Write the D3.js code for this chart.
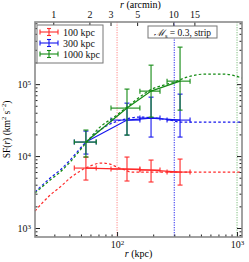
<!DOCTYPE html>
<html>
<head>
<meta charset="utf-8">
<script src="https://cdn.jsdelivr.net/npm/d3@7"></script>
<style>
  body { margin: 0; background: #fff; }
  text { font-family: "Liberation Serif", "DejaVu Serif", serif; }
</style>
</head>
<body>
<script>

// bins (kpc) shared by all three series
var rMid = [55, 121, 192, 335];
var rLo = [44, 89, 155, 261];
var rHi = [67, 155, 228, 406];

// measured SF (km^2 s^-2)
var sf100 = [6810, 6590, 6390, 5990];
var sf100Lo = [4640, 4500, 4360, 3950];
var sf100Hi = [9690, 9690, 8800, 9080];

var sf300 = [15650, 31620, 33730, 31620];
var sf300Lo = [10660, 19570, 18370, 18370];
var sf300Hi = [22230, 54400, 65900, 72600];

var sf1000 = [15650, 46420, 79900, 110000];
var sf1000Lo = [9690, 19570, 34800, 43500];
var sf1000Hi = [22990, 85300, 183500, 326600];

// model curves (dashed)
var mod100R = [20.7, 27.7, 33.5, 40.6, 49.2, 59.6, 73.6, 87.4, 100, 117, 131, 188, 335, 1100];
var mod100SF = [1720, 2870, 3710, 4950, 6190, 7260, 8000, 7740, 7030, 6390, 5990, 5990, 5990, 5990];
var mod300R = [20.7, 27.7, 33.5, 40.6, 55.1, 72.1, 87.4, 117, 156, 207, 276, 335, 1100];
var mod300SF = [3160, 4950, 6390, 8800, 15650, 22970, 27830, 32660, 34800, 33700, 31620, 29690, 29690];
var mod1000R = [20.7, 27.7, 33.5, 40.6, 55.1, 72.1, 94.4, 121, 188, 298, 383, 532, 780, 1100];
var mod1000SF = [3060, 4640, 5990, 8250, 15170, 25290, 34800, 47960, 82540, 106600, 125000, 137600, 137600, 121200];

var labels = ["100 kpc", "300 kpc", "1000 kpc"];
var colors = ["#ff2a2a", "#1515ee", "#138a13"];
var scales = [100, 300, 1000];
var kpcPerArcmin = 29.4;
var arcminTicks = [1, 2, 3, 5, 10, 15];

var w = 249, h = 262;
var L = 35, R = 242, T = 22, B = 237;

var svg = d3.select("body").append("svg")
    .attr("width", w)
    .attr("height", h);

var xScale = d3.scaleLog().domain([20.7, 1100]).range([L, R]);
var yScale = d3.scaleLog().domain([750, 7.3e5]).range([B, T]);
var xTop = d3.scaleLog().domain([20.7 / kpcPerArcmin, 1100 / kpcPerArcmin]).range([L, R]);

var series = [
    {mid: sf100, lo: sf100Lo, hi: sf100Hi, mr: mod100R, ms: mod100SF},
    {mid: sf300, lo: sf300Lo, hi: sf300Hi, mr: mod300R, ms: mod300SF},
    {mid: sf1000, lo: sf1000Lo, hi: sf1000Hi, mr: mod1000R, ms: mod1000SF}
];

var plot = svg.append("g");

// vertical dotted lines at the driving scales
plot.selectAll(".vline")
    .data(scales)
    .enter()
    .append("line")
    .attr("x1", function(d) { return xScale(d); })
    .attr("x2", function(d) { return xScale(d); })
    .attr("y1", T)
    .attr("y2", B)
    .attr("stroke", function(d, i) { return colors[i]; })
    .attr("stroke-opacity", function(d, i) { return i == 1 ? 0.75 : 0.45; })
    .attr("stroke-width", 1.2)
    .attr("stroke-dasharray", "1.2,1.3");

var line = d3.line()
    .x(function(d) { return xScale(d[0]); })
    .y(function(d) { return yScale(d[1]); })
    .curve(d3.curveMonotoneX);

var straight = d3.line()
    .x(function(d) { return xScale(d[0]); })
    .y(function(d) { return yScale(d[1]); });

series.forEach(function(s, k) {
    var c = colors[k];
    // model
    plot.append("path")
        .attr("d", line(d3.zip(s.mr, s.ms)))
        .attr("fill", "none")
        .attr("stroke", c)
        .attr("stroke-width", 1.2)
        .attr("stroke-dasharray", "2.6,2.2");
    // data line
    plot.append("path")
        .attr("d", straight(d3.zip(rMid, s.mid)))
        .attr("fill", "none")
        .attr("stroke", c)
        .attr("stroke-width", 1.2);

    var g = plot.append("g").attr("stroke", c).attr("stroke-width", 1.1);
    rMid.forEach(function(r, i) {
        var x = xScale(r), y = yScale(s.mid[i]);
        var y1 = yScale(s.hi[i]), y2 = yScale(s.lo[i]);
        var x1 = xScale(rLo[i]), x2 = xScale(rHi[i]);
        g.append("line").attr("x1", x).attr("x2", x).attr("y1", y1).attr("y2", y2);
        g.append("line").attr("x1", x - 2.5).attr("x2", x + 2.5).attr("y1", y1).attr("y2", y1);
        g.append("line").attr("x1", x - 2.5).attr("x2", x + 2.5).attr("y1", y2).attr("y2", y2);
        g.append("line").attr("x1", x1).attr("x2", x2).attr("y1", y).attr("y2", y);
        g.append("line").attr("x1", x1).attr("x2", x1).attr("y1", y - 2.5).attr("y2", y + 2.5);
        g.append("line").attr("x1", x2).attr("x2", x2).attr("y1", y - 2.5).attr("y2", y + 2.5);
    });
});

// axes
function supLabels(sel) {
    sel.selectAll(".tick text").each(function(d) {
        var t = d3.select(this);
        t.text("10");
        t.append("tspan").attr("dy", "-0.45em").attr("font-size", "7px")
            .text(Math.round(Math.log10(d)));
    });
}

var xMajor = [100, 1000];
var xMinor = [30, 40, 50, 60, 70, 80, 90, 200, 300, 400, 500, 600, 700, 800, 900];
var yMajor = [1e3, 1e4, 1e5];
var yMinor = [800, 900, 2e3, 3e3, 4e3, 5e3, 6e3, 7e3, 8e3, 9e3,
    2e4, 3e4, 4e4, 5e4, 6e4, 7e4, 8e4, 9e4, 2e5, 3e5, 4e5, 5e5, 6e5, 7e5];

function styleAxis(g) {
    g.select(".domain").remove();
    g.selectAll(".tick line").attr("stroke", "#222").attr("stroke-width", 1);
    g.selectAll("text").attr("fill", "#111").attr("font-size", "10px")
        .attr("font-family", "Liberation Serif, serif");
}

var gx = svg.append("g").attr("transform", "translate(0," + B + ")")
    .call(d3.axisBottom(xScale).tickValues(xMajor).tickSize(-5).tickPadding(4));
supLabels(gx); styleAxis(gx);
svg.append("g").attr("transform", "translate(0," + B + ")")
    .call(d3.axisBottom(xScale).tickValues(xMinor).tickSize(-2.5).tickFormat(""))
    .call(styleAxis);

var gy = svg.append("g").attr("transform", "translate(" + L + ",0)")
    .call(d3.axisLeft(yScale).tickValues(yMajor).tickSize(-5).tickPadding(4));
supLabels(gy); styleAxis(gy);
svg.append("g").attr("transform", "translate(" + L + ",0)")
    .call(d3.axisLeft(yScale).tickValues(yMinor).tickSize(-2.5).tickFormat(""))
    .call(styleAxis);
svg.append("g").attr("transform", "translate(" + R + ",0)")
    .call(d3.axisRight(yScale).tickValues(yMajor).tickSize(-5).tickFormat(""))
    .call(styleAxis);
svg.append("g").attr("transform", "translate(" + R + ",0)")
    .call(d3.axisRight(yScale).tickValues(yMinor).tickSize(-2.5).tickFormat(""))
    .call(styleAxis);

var gt = svg.append("g").attr("transform", "translate(0," + T + ")")
    .call(d3.axisTop(xTop).tickValues(arcminTicks).tickSize(-4).tickPadding(4)
        .tickFormat(function(d) { return d; }));
styleAxis(gt);

// frame
svg.append("rect")
    .attr("x", L).attr("y", T)
    .attr("width", R - L).attr("height", B - T)
    .attr("fill", "none")
    .attr("stroke", "#8a8a8a")
    .attr("stroke-width", 1.6);

// axis titles
svg.append("text")
    .attr("x", (L + R) / 2).attr("y", 257)
    .attr("text-anchor", "middle").attr("font-size", "10px")
    .html('<tspan font-style="italic">r</tspan> (kpc)');
svg.append("text")
    .attr("x", (L + R) / 2 + 2).attr("y", 8)
    .attr("text-anchor", "middle").attr("font-size", "10px")
    .html('<tspan font-style="italic">r</tspan> (arcmin)');
svg.append("text")
    .attr("transform", "translate(10," + ((T + B) / 2) + ") rotate(-90)")
    .attr("text-anchor", "middle").attr("font-size", "9.5px")
    .html('SF(<tspan font-style="italic">r</tspan>) (km<tspan dy="-4" font-size="6.5px">2</tspan><tspan dy="4"> s</tspan><tspan dy="-4" font-size="6.5px">\u22122</tspan><tspan dy="4">)</tspan>');

// legend
var leg = svg.append("g");
leg.append("rect")
    .attr("x", 37).attr("y", 25).attr("width", 66).attr("height", 38)
    .attr("fill", "#fff").attr("stroke", "#777").attr("stroke-width", 1);
labels.forEach(function(lab, i) {
    var y = 32 + i * 11;
    var g = leg.append("g").attr("stroke", colors[i]).attr("stroke-width", 1.1);
    g.append("line").attr("x1", 40).attr("x2", 58).attr("y1", y).attr("y2", y);
    g.append("line").attr("x1", 40).attr("x2", 40).attr("y1", y - 2.5).attr("y2", y + 2.5);
    g.append("line").attr("x1", 58).attr("x2", 58).attr("y1", y - 2.5).attr("y2", y + 2.5);
    g.append("line").attr("x1", 49).attr("x2", 49).attr("y1", y - 3.5).attr("y2", y + 3.5);
    g.append("line").attr("x1", 47).attr("x2", 51).attr("y1", y - 3.5).attr("y2", y - 3.5);
    g.append("line").attr("x1", 47).attr("x2", 51).attr("y1", y + 3.5).attr("y2", y + 3.5);
    leg.append("text").attr("x", 63).attr("y", y + 3.5)
        .attr("font-size", "10px").attr("fill", "#111").text(lab);
});

// annotation
svg.append("rect")
    .attr("x", 148).attr("y", 26).attr("width", 69).attr("height", 12)
    .attr("fill", "#fff").attr("stroke", "#777").attr("stroke-width", 1);
svg.append("text")
    .attr("x", 182.5).attr("y", 35.5)
    .attr("text-anchor", "middle").attr("font-size", "9.5px").attr("fill", "#111")
    .html('<tspan font-style="italic">\u2133</tspan><tspan dy="2" font-size="6.5px">s</tspan><tspan dy="-2"> = 0.3, strip</tspan>');

</script>
</body>
</html>
